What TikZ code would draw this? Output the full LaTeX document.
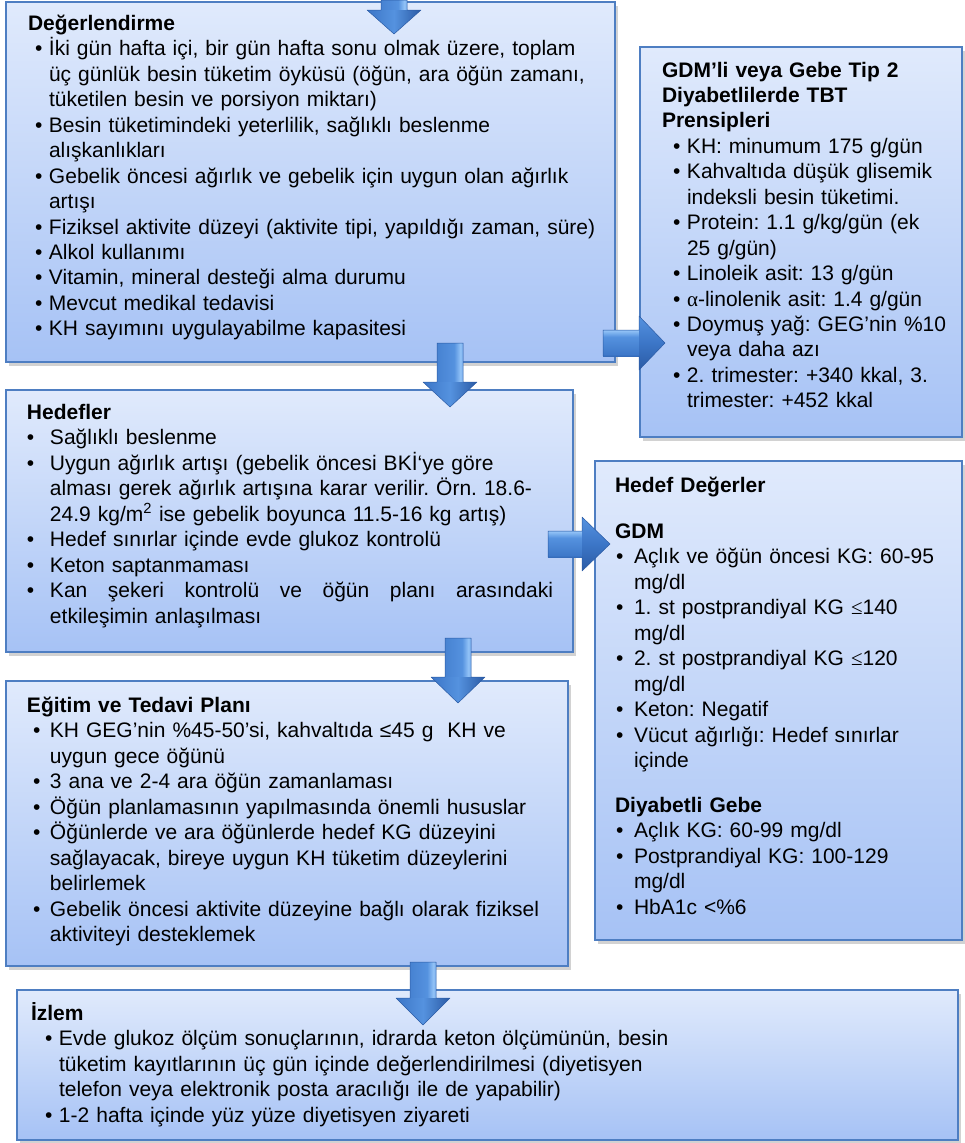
\documentclass[tikz,border=0pt]{standalone}
\usepackage{fontspec}
\setmainfont{Liberation Sans}
\newfontfamily\symfont{Liberation Serif}
\usetikzlibrary{shadows}

\definecolor{boxTop}{HTML}{E0EAFC}
\definecolor{boxBot}{HTML}{A6C2F5}
\definecolor{boxLine}{HTML}{4E7EC2}
\definecolor{arrA}{HTML}{3C76C7}
\definecolor{arrB}{HTML}{5592DF}
\definecolor{arrHi}{HTML}{93C3F7}
\definecolor{arrDk}{HTML}{2B5BA5}

% block-arrow shadings: shaft of down arrows (horizontal) and right arrows (vertical)
\pgfdeclarehorizontalshading{arrshaftH}{100bp}{color(0bp)=(arrA); color(58bp)=(arrB); color(70bp)=(arrHi); color(80bp)=(arrB); color(100bp)=(arrDk)}
\pgfdeclareverticalshading{arrshaftV}{100bp}{color(0bp)=(arrDk); color(25bp)=(arrA); color(62bp)=(arrB); color(74bp)=(arrHi); color(86bp)=(arrB); color(100bp)=(arrA)}

\newlength\bind
\newlength\boff
\newcommand\bodyfont{\fontsize{21.0}{25.45}\selectfont\frenchspacing}
\newcommand\ttl[1]{\noindent\rule{0pt}{20pt}\textbf{#1}\par}
\newcommand\bitem{\par\hangindent=\bind\hangafter=1\noindent\hbox to\bind{\hskip\boff\textbullet\hfil}\ignorespaces}
\newcommand\nl{\newline\ignorespaces}

% down block arrow: centre x, shaft top, head base, tip (distances from the top edge)
\newcommand\downblock[4]{%
  \shade[shading=arrshaftH] (#1-13,-#2) rectangle (#1+13,-#3);
  \shade[left color=arrA,right color=arrB] (#1-27,-#3) -- (#1,-#3) -- (#1,-#4) -- cycle;
  \shade[left color=arrB,right color=arrDk] (#1,-#3) -- (#1+27,-#3) -- (#1,-#4) -- cycle;
  \draw[arrDk,line width=0.5pt,line join=round] (#1-13,-#2) -- (#1-13,-#3) -- (#1-27,-#3) -- (#1,-#4) -- (#1+27,-#3) -- (#1+13,-#3) -- (#1+13,-#2) -- cycle;
}
% right block arrow: centre y, shaft left, head base, tip
\newcommand\rightblock[4]{%
  \shade[shading=arrshaftV] (#2,-#1+13) rectangle (#3,-#1-13);
  \shade[top color=arrB,bottom color=arrA] (#3,-#1+27) -- (#3,-#1) -- (#4,-#1) -- cycle;
  \shade[top color=arrA,bottom color=arrDk] (#3,-#1) -- (#3,-#1-27) -- (#4,-#1) -- cycle;
  \draw[arrDk,line width=0.5pt,line join=round] (#2,-#1+13) -- (#3,-#1+13) -- (#3,-#1+27) -- (#4,-#1) -- (#3,-#1-27) -- (#3,-#1-13) -- (#2,-#1-13) -- cycle;
}

\tikzset{
  box/.style={draw=boxLine, line width=1.3pt, top color=boxTop, bottom color=boxBot,
    drop shadow={shadow xshift=2.5pt, shadow yshift=-3.5pt, opacity=0.35},
    inner sep=0pt, outer sep=0pt, anchor=north west},
  txt/.style={inner sep=0pt, outer sep=0pt, anchor=north west, align=left, font=\bodyfont},
}

\begin{document}
\begin{tikzpicture}[x=1pt,y=1pt]
\useasboundingbox (0,0) rectangle (964,-1143);
\fill[white] (0,0) rectangle (964,-1143);

% boxes
\node[box, minimum width=609, minimum height=360] (b1) at (6,-2) {};
\node[box, minimum width=322, minimum height=390] (b2) at (640,-47) {};
\node[box, minimum width=567, minimum height=262] (b3) at (6,-390) {};
\node[box, minimum width=367, minimum height=479] (b4) at (595,-461) {};
\node[box, minimum width=562, minimum height=285] (b5) at (6,-681) {};
\node[box, minimum width=941, minimum height=150] (b6) at (17,-990) {};

% texts
\node[txt, text width=600] (t1) at ([shift={(22,-8.5)}]b1.north west) {%
\setlength\bind{21pt}\setlength\boff{7pt}%
\ttl{Değerlendirme}
\bitem İki gün hafta içi, bir gün hafta sonu olmak üzere, toplam\nl üç günlük besin tüketim öyküsü (öğün, ara öğün zamanı,\nl tüketilen besin ve porsiyon miktarı)
\bitem Besin tüketimindeki yeterlilik, sağlıklı beslenme\nl alışkanlıkları
\bitem Gebelik öncesi ağırlık ve gebelik için uygun olan ağırlık\nl artışı
\bitem Fiziksel aktivite düzeyi (aktivite tipi, yapıldığı zaman, süre)
\bitem Alkol kullanımı
\bitem Vitamin, mineral desteği alma durumu
\bitem Mevcut medikal tedavisi
\bitem KH sayımını uygulayabilme kapasitesi\par};

\node[txt, text width=320] (t2) at ([shift={(22,-10)}]b2.north west) {%
\setlength\bind{25pt}\setlength\boff{11pt}%
\ttl{GDM’li veya Gebe Tip 2\newline Diyabetlilerde TBT\newline Prensipleri}
\bitem KH: minumum 175 g/gün
\bitem Kahvaltıda düşük glisemik\nl indeksli besin tüketimi.
\bitem Protein: 1.1 g/kg/gün (ek\nl 25 g/gün)
\bitem Linoleik asit: 13 g/gün
\bitem {\symfont α}-linolenik asit: 1.4 g/gün
\bitem Doymuş yağ: GEG’nin \%10\nl veya daha azı
\bitem 2. trimester: +340 kkal, 3.\nl trimester: +452 kkal\par};

\node[txt, text width=560] (t3) at ([shift={(21,-9.5)}]b3.north west) {%
\setlength\bind{23pt}\setlength\boff{0pt}%
\ttl{Hedefler}
\bitem Sağlıklı beslenme
\bitem Uygun ağırlık artışı (gebelik öncesi BKİ‘ye göre\nl alması gerek ağırlık artışına karar verilir. Örn. 18.6-\nl 24.9 kg/m\textsuperscript{2} ise gebelik boyunca 11.5-16 kg artış)
\bitem Hedef sınırlar içinde evde glukoz kontrolü
\bitem Keton saptanmaması
\bitem \hbox to 503pt{Kan\hfill şekeri\hfill kontrolü\hfill ve\hfill öğün\hfill planı\hfill arasındaki}\nl etkileşimin anlaşılması\par};

\node[txt, text width=345] (t4) at ([shift={(20,-11.5)}]b4.north west) {%
\setlength\bind{19pt}\setlength\boff{1pt}%
\ttl{Hedef Değerler}
\vspace{20.5pt}
\ttl{GDM}
\bitem Açlık ve öğün öncesi KG: 60-95\nl mg/dl
\bitem 1. st postprandiyal KG {\symfont ≤}140\nl mg/dl
\bitem 2. st postprandiyal KG {\symfont ≤}120\nl mg/dl
\bitem Keton: Negatif
\bitem Vücut ağırlığı: Hedef sınırlar\nl içinde\par
\vspace{19.5pt}
\ttl{Diyabetli Gebe}
\bitem Açlık KG: 60-99 mg/dl
\bitem Postprandiyal KG: 100-129\nl mg/dl
\bitem HbA1c <\%6\par};

\node[txt, text width=550] (t5) at ([shift={(21,-11.5)}]b5.north west) {%
\setlength\bind{23pt}\setlength\boff{6pt}%
\ttl{Eğitim ve Tedavi Planı}
\bitem KH GEG’nin \%45-50’si, kahvaltıda ≤45 g\ \ KH ve\nl uygun gece öğünü
\bitem 3 ana ve 2-4 ara öğün zamanlaması
\bitem Öğün planlamasının yapılmasında önemli hususlar
\bitem Öğünlerde ve ara öğünlerde hedef KG düzeyini\nl sağlayacak, bireye uygun KH tüketim düzeylerini\nl belirlemek
\bitem Gebelik öncesi aktivite düzeyine bağlı olarak fiziksel\nl aktiviteyi desteklemek\par};

\node[txt, text width=900] (t6) at ([shift={(14,-10.5)}]b6.north west) {%
\setlength\bind{28pt}\setlength\boff{14pt}%
\ttl{İzlem}
\bitem Evde glukoz ölçüm sonuçlarının, idrarda keton ölçümünün, besin\nl tüketim kayıtlarının üç gün içinde değerlendirilmesi (diyetisyen\nl telefon veya elektronik posta aracılığı ile de yapabilir)
\bitem 1-2 hafta içinde yüz yüze diyetisyen ziyareti\par};

% block arrows
\downblock{394}{0}{10}{34}
\downblock{450}{343}{382}{407}
\downblock{458}{638}{677}{703}
\downblock{423}{962}{998}{1025}
\rightblock{343}{603}{639}{665}
\rightblock{544}{548}{582}{610}
\end{tikzpicture}
\end{document}
